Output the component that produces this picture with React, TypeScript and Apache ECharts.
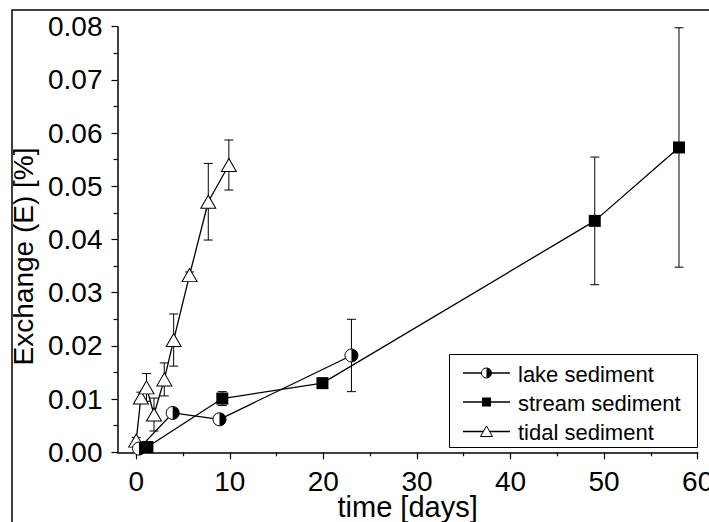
import React, { useEffect, useRef } from "react";
import * as echarts from "echarts";

const lakeX = [0.3, 3.9, 8.9, 23.0];
const lakeY = [0.0007, 0.0074, 0.0062, 0.0182];
const lakeErr = [0.0003, 0.0006, 0.0005, 0.0068];

const streamX = [1.2, 9.2, 19.9, 49.0, 58.0];
const streamY = [0.001, 0.0101, 0.013, 0.0435, 0.0573];
const streamErr = [0.0004, 0.0013, 0.0005, 0.012, 0.0225];

const tidalX = [0.0, 0.5, 1.1, 1.9, 3.0, 4.0, 5.7, 7.7, 9.9];
const tidalY = [0.0022, 0.0103, 0.0122, 0.0071, 0.0137, 0.0211, 0.0333, 0.0471, 0.054];
const tidalErr = [0.0006, 0.001, 0.0026, 0.0031, 0.0031, 0.0049, 0.0006, 0.0072, 0.0047];

const xMajorTicks = [0, 10, 20, 30, 40, 50, 60];
const xMinorTicks = [5, 15, 25, 35, 45, 55];

const seriesNames = ["lake sediment", "stream sediment", "tidal sediment"];

const FONT = "Liberation Sans, Arial, sans-serif";

function pairs(xs: number[], ys: number[]) {
  return xs.map((x, i) => [x, ys[i]]);
}
function triples(xs: number[], ys: number[], es: number[]) {
  return xs.map((x, i) => [x, ys[i], es[i]]);
}

function errorRender(params: any, api: any) {
  const x = api.value(0);
  const y = api.value(1);
  const e = api.value(2);
  const top = api.coord([x, y + e]);
  const bot = api.coord([x, y - e]);
  const hw = 4.5;
  const style = { stroke: "#000", lineWidth: 1 };
  return {
    type: "group",
    children: [
      { type: "line", shape: { x1: top[0], y1: top[1], x2: bot[0], y2: bot[1] }, style },
      { type: "line", shape: { x1: top[0] - hw, y1: top[1], x2: top[0] + hw, y2: top[1] }, style },
      { type: "line", shape: { x1: bot[0] - hw, y1: bot[1], x2: bot[0] + hw, y2: bot[1] }, style },
    ],
  };
}

function halfCircleRender(params: any, api: any) {
  const p = api.coord([api.value(0), api.value(1)]);
  const r = 6.5;
  return {
    type: "group",
    children: [
      { type: "circle", shape: { cx: p[0], cy: p[1], r }, style: { fill: "#fff", stroke: "#000", lineWidth: 1 } },
      {
        type: "sector",
        shape: { cx: p[0], cy: p[1], r, r0: 0, startAngle: -Math.PI / 2, endAngle: Math.PI / 2 },
        style: { fill: "#000" },
      },
    ],
  };
}

export default function App() {
  const ref = useRef<HTMLDivElement>(null);
  useEffect(() => {
    if (!ref.current) return;
    const chart = echarts.init(ref.current, undefined, { renderer: "svg" });

    const lgX = 449.5;
    const lgY = 354.5;
    const rows = [373, 402, 431.5];
    const lineX1 = 463;
    const lineX2 = 510;
    const symX = 486.5;
    const textX = 518;

    const legendChildren: any[] = [
      {
        type: "rect",
        shape: { x: lgX, y: lgY, width: 248, height: 93 },
        style: { fill: "#fff", stroke: "#000", lineWidth: 1 },
      },
    ];
    rows.forEach((ry, i) => {
      legendChildren.push({
        type: "line",
        shape: { x1: lineX1, y1: ry, x2: lineX2, y2: ry },
        style: { stroke: "#000", lineWidth: 1.3 },
      });
      legendChildren.push({
        type: "text",
        x: textX,
        y: ry + 1,
        style: { text: seriesNames[i], fontSize: 22, fontFamily: FONT, fill: "#000", verticalAlign: "middle", align: "left" },
      });
    });
    legendChildren.push({
      type: "circle",
      shape: { cx: symX, cy: rows[0], r: 5 },
      style: { fill: "#fff", stroke: "#000", lineWidth: 1 },
    });
    legendChildren.push({
      type: "sector",
      shape: { cx: symX, cy: rows[0], r: 5, r0: 0, startAngle: -Math.PI / 2, endAngle: Math.PI / 2 },
      style: { fill: "#000" },
    });
    legendChildren.push({
      type: "rect",
      shape: { x: symX - 4.5, y: rows[1] - 4.5, width: 9, height: 9 },
      style: { fill: "#000" },
    });
    legendChildren.push({
      type: "polygon",
      shape: { points: [[symX, rows[2] - 5.5], [symX - 6, rows[2] + 5], [symX + 6, rows[2] + 5]] },
      style: { fill: "#fff", stroke: "#000", lineWidth: 1 },
    });

    const option: any = {
      animation: false,
      backgroundColor: "#fff",
      textStyle: { fontFamily: FONT, color: "#000" },
      grid: { left: 117.5, right: 11.3, top: 26.7, bottom: 69.7, containLabel: false, outerBoundsMode: "none" },
      xAxis: [
        {
          type: "value",
          position: "bottom",
          min: -2,
          max: 60,
          name: "time [days]",
          nameLocation: "middle",
          nameGap: 40,
          nameMoveOverlap: false,
          nameTextStyle: { fontSize: 29, fontFamily: FONT, color: "#000" },
          axisLine: { show: true, onZero: false, lineStyle: { color: "#000", width: 1.5 } },
          axisTick: { show: true, inside: false, length: 7, customValues: xMajorTicks, lineStyle: { color: "#000", width: 1.2 } },
          axisLabel: { show: true, customValues: xMajorTicks, fontSize: 28, fontFamily: FONT, color: "#000", margin: 15, hideOverlap: false },
          splitLine: { show: false },
        },
        {
          type: "value",
          position: "bottom",
          min: -2,
          max: 60,
          axisLine: { show: false, onZero: false },
          axisTick: { show: true, inside: false, length: 4, customValues: xMinorTicks, lineStyle: { color: "#000", width: 1.2 } },
          axisLabel: { show: false },
          splitLine: { show: false },
        },
      ],
      yAxis: {
        type: "value",
        min: 0,
        max: 0.08,
        interval: 0.01,
        name: "Exchange (E) [%]",
        nameLocation: "middle",
        nameRotate: 90,
        nameGap: 80,
        nameMoveOverlap: false,
        nameTextStyle: { fontSize: 28, fontFamily: FONT, color: "#000", padding: [0, 34, 0, 0] },
        axisLine: { show: true, onZero: false, lineStyle: { color: "#000", width: 1.5 } },
        axisTick: { show: true, inside: false, length: 6, lineStyle: { color: "#000", width: 1.2 } },
        minorTick: { show: true, splitNumber: 2, length: 4, lineStyle: { color: "#000", width: 1.2 } },
        axisLabel: {
          fontSize: 28,
          fontFamily: FONT,
          color: "#000",
          margin: 15,
          formatter: (v: number) => v.toFixed(2),
        },
        splitLine: { show: false },
      },
      series: [
        {
          type: "custom",
          name: "lake err",
          renderItem: errorRender,
          data: triples(lakeX, lakeY, lakeErr),
          encode: { x: 0, y: 1 },
          z: 1,
          silent: true,
        },
        {
          type: "custom",
          name: "stream err",
          renderItem: errorRender,
          data: triples(streamX, streamY, streamErr),
          encode: { x: 0, y: 1 },
          z: 1,
          silent: true,
        },
        {
          type: "custom",
          name: "tidal err",
          renderItem: errorRender,
          data: triples(tidalX, tidalY, tidalErr),
          encode: { x: 0, y: 1 },
          z: 1,
          silent: true,
        },
        {
          type: "line",
          name: seriesNames[0],
          data: pairs(lakeX, lakeY),
          symbol: "none",
          lineStyle: { color: "#000", width: 1.3 },
          z: 2,
        },
        {
          type: "line",
          name: seriesNames[1],
          data: pairs(streamX, streamY),
          symbol: "rect",
          symbolSize: 12,
          showAllSymbol: true,
          itemStyle: { color: "#000" },
          lineStyle: { color: "#000", width: 1.3 },
          z: 2,
        },
        {
          type: "line",
          name: seriesNames[2],
          data: pairs(tidalX, tidalY),
          symbol: "triangle",
          symbolSize: [15, 13],
          showAllSymbol: true,
          itemStyle: { color: "#fff", borderColor: "#000", borderWidth: 1 },
          lineStyle: { color: "#000", width: 1.3 },
          z: 3,
        },
        {
          type: "custom",
          name: "lake markers",
          renderItem: halfCircleRender,
          data: pairs(lakeX, lakeY),
          encode: { x: 0, y: 1 },
          z: 4,
        },
      ],
      graphic: [
        {
          type: "rect",
          shape: { x: 12, y: 10, width: 800, height: 600 },
          style: { fill: "none", stroke: "#000", lineWidth: 1.5 },
          silent: true,
          z: 10,
        },
        { type: "group", children: legendChildren, z: 10 },
      ],
    };
    chart.setOption(option);
    return () => chart.dispose();
  }, []);
  return <div ref={ref} style={{ position: "absolute", left: 0, top: 0, width: 709, height: 522 }} />;
}
